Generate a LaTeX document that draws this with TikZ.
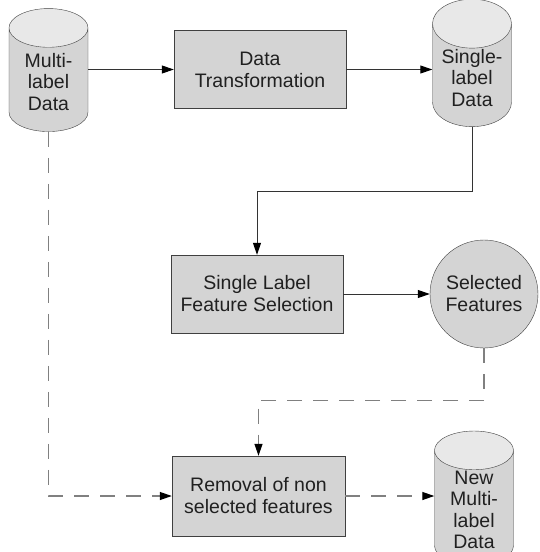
\documentclass[tikz,border=0pt]{standalone}
\usepackage{fontspec}
\setmainfont{Liberation Sans}
\usetikzlibrary{shapes.geometric,arrows.meta}

\definecolor{boxgray}{HTML}{D4D4D4}
\definecolor{topgray}{HTML}{E8E8E8}
\definecolor{linegray}{HTML}{808080}
\definecolor{textgray}{HTML}{202020}

\begin{document}
\begin{tikzpicture}[x=1pt,y=-1pt,  % pixel-like units, y pointing down
    box/.style={
      rectangle,draw=black!75,
      fill=boxgray,
      minimum width=172pt,
      minimum height=78pt,
      align=center,text=textgray,
      font=\fontsize{19.5}{22}\selectfont
    },
    store/.style={
      cylinder,draw=black!75,
      shape border rotate=90,
      aspect=0.78,  % end ellipse about 31pt tall
      cylinder uses custom fill,
      cylinder body fill=boxgray,
      cylinder end fill=topgray,
      minimum width=79pt,
      minimum height=123pt,
      inner sep=1pt,
      align=center,text=textgray,
      font=\fontsize{19.5}{21.5}\selectfont
    },
    result/.style={
      circle,draw=black!75,
      fill=boxgray,
      minimum size=108pt,
      inner sep=1pt,
      align=center,text=textgray,
      font=\fontsize{19.5}{22}\selectfont
    },
    flow/.style={
      draw=black!80,line width=1pt,
      -{Triangle[length=12pt,width=8pt,color=black]}
    },
    guide/.style={
      draw=linegray,line width=1.2pt,
      dash pattern=on 15pt off 11pt,
      -{Triangle[length=12pt,width=8pt,color=black]}
    }
  ]
    \useasboundingbox (0,0) rectangle (540,552);

    % Top row (cylinder centre sits low in the body)
    \node[store] (ml) at (48.5,82) {Multi-\\label\\Data};
    \node[box] (dt) at (260,69.5) {Data\\Transformation};
    \node[store] (sl) at (472,78) {Single-\\label\\Data};

    % Middle row
    \node[box] (slfs) at (257,294)
      {Single Label\\Feature Selection};
    \node[result] (sf) at (484,294) {Selected\\Features};

    % Bottom row
    \node[box,minimum width=173pt,minimum height=80pt] (rem) at (258.5,496)
      {Removal of non\\selected features};
    \node[store] (nml) at (474,510)
      {New\\Multi-\\label\\Data};

    % Solid edges
    \draw[flow] (dt.west -| ml.east) -- (dt.west);
    \draw[flow] (dt.east) -- (dt.east -| sl.west);
    \draw[flow] (slfs) -- (sf);
    \draw[flow] (sl.south) -- ++(0,65) -| (slfs.north);

    % Dashed edges
    \draw[guide] (sf.south) -- ++(0,52) -| (rem.north);
    \draw[guide] (ml.south) |- (rem.west);
    \draw[guide] (rem.east) -- (rem.east -| nml.west);

  \end{tikzpicture}
\end{document}
